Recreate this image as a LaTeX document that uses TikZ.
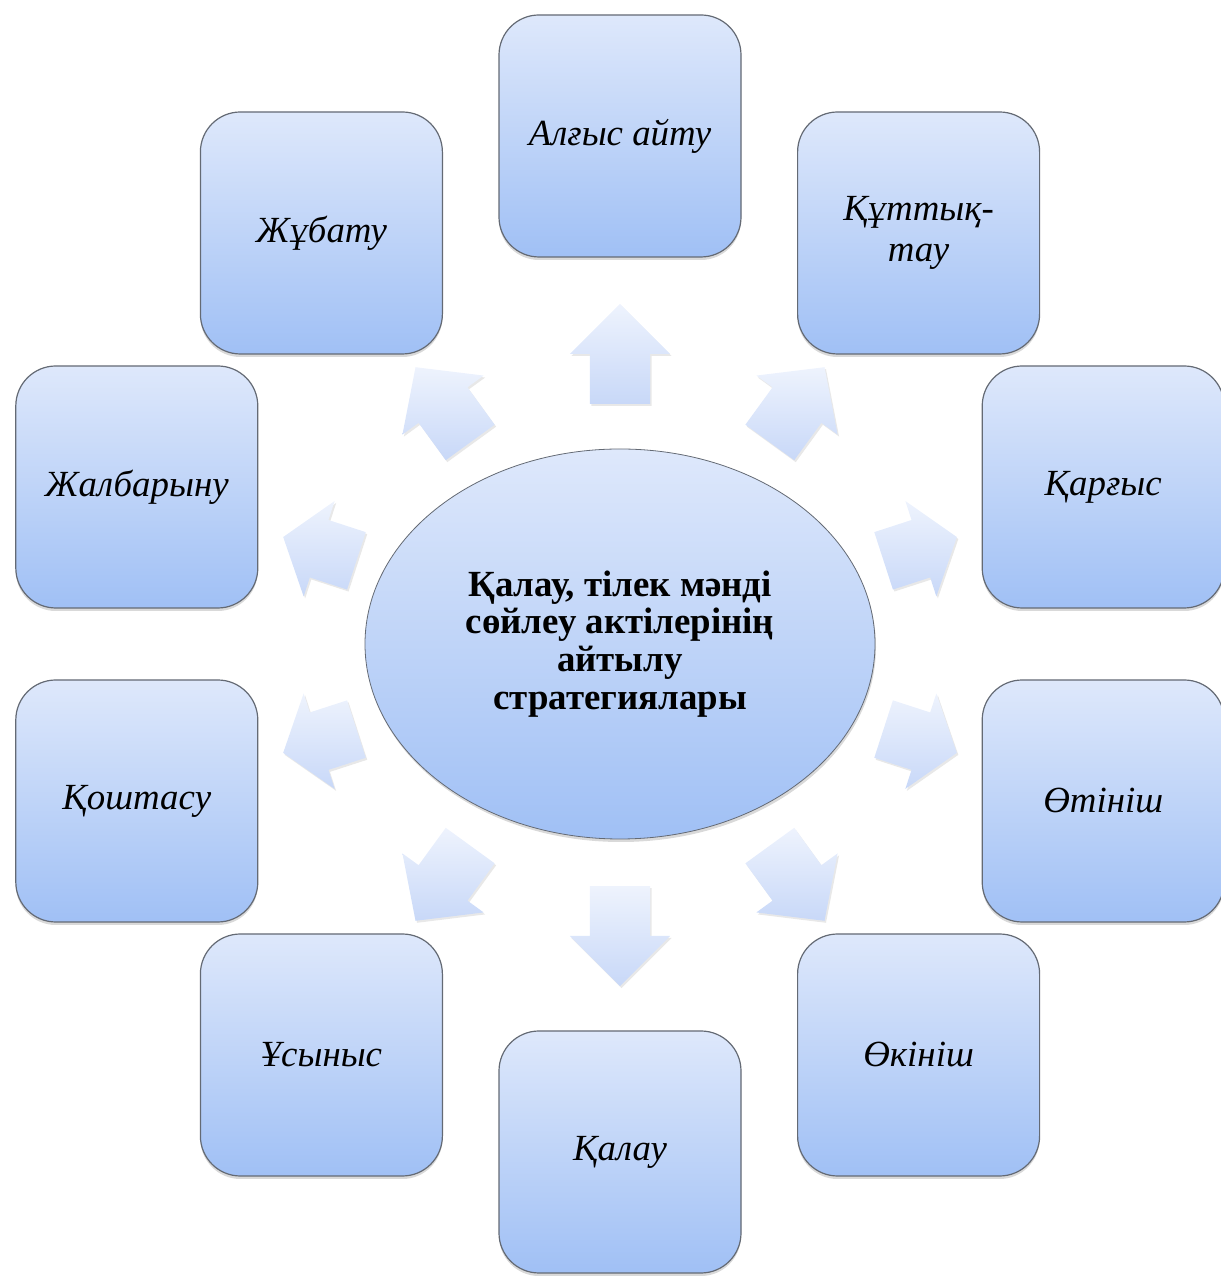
\documentclass[tikz,border=0pt]{standalone}
\usepackage{fontspec}
\setmainfont{Liberation Serif}
\usetikzlibrary{shapes.geometric,shapes.arrows,shadows}
\definecolor{boxtop}{RGB}{222,232,251}
\definecolor{boxbot}{RGB}{160,192,245}
\definecolor{arrtop}{RGB}{238,243,253}
\definecolor{arrbot}{RGB}{200,216,248}
\definecolor{strokecol}{RGB}{100,106,116}

\begin{document}
\begin{tikzpicture}[line join=bevel,
  strategy/.style={draw=strokecol, line width=1.2bp, rounded corners=40bp,
    minimum width=242bp, minimum height=242bp, inner sep=0pt,
    top color=boxtop, bottom color=boxbot, align=center,
    font=\fontsize{37}{41}\selectfont\itshape,
    drop shadow={shadow xshift=0bp, shadow yshift=-3bp, opacity=0.3}},
  hub/.style={ellipse, draw=strokecol, line width=0.8bp,
    minimum width=510bp, minimum height=390bp, inner sep=0pt,
    top color=boxtop, bottom color=boxbot, align=center,
    font=\fontsize{37}{38}\selectfont\bfseries,
    drop shadow={shadow xshift=1bp, shadow yshift=-3bp, opacity=0.3}},
  blockarrow/.style={single arrow, draw=none, anchor=tail,
    inner xsep=0pt, inner ysep=30bp, single arrow head extend=20bp,
    top color=arrtop, bottom color=arrbot,
    drop shadow={shadow xshift=1.5bp, shadow yshift=-2bp, opacity=0.18}}]
  \useasboundingbox (0bp,0bp) rectangle (1221bp,1276bp);
%%
  % Node: hub
  \node [hub] (hub) at (620bp,632bp)
    {Қалау, тілек мәнді\\сөйлеу актілерінің\\айтылу\\стратегиялары};
  % Edge: hub -> alghys
  \node [blockarrow, minimum height=100bp, single arrow tip angle=90, rotate=90] (a1) at (620bp,872bp) {};
  % Edge: hub -> kuttyktau
  \node [blockarrow, minimum height=93bp, single arrow tip angle=94, rotate=54] (a2) at (769.7bp,833.4bp) {};
  % Edge: hub -> kargys
  \node [blockarrow, minimum height=77bp, single arrow tip angle=106, rotate=18] (a3) at (883.4bp,715.1bp) {};
  % Edge: hub -> otinish
  \node [blockarrow, minimum height=77bp, single arrow tip angle=106, rotate=-18] (a4) at (883.4bp,547bp) {};
  % Edge: hub -> okinish
  \node [blockarrow, minimum height=93bp, single arrow tip angle=94, rotate=-54] (a5) at (769.7bp,430.6bp) {};
  % Edge: hub -> kalau
  \node [blockarrow, minimum height=100bp, single arrow tip angle=90, rotate=-90] (a6) at (620bp,390bp) {};
  % Edge: hub -> usynys
  \node [blockarrow, minimum height=93bp, single arrow tip angle=94, rotate=-126] (a7) at (470.3bp,430.6bp) {};
  % Edge: hub -> koshtasu
  \node [blockarrow, minimum height=77bp, single arrow tip angle=106, rotate=-162] (a8) at (356.6bp,547bp) {};
  % Edge: hub -> zhalbarynu
  \node [blockarrow, minimum height=77bp, single arrow tip angle=106, rotate=162] (a9) at (356.6bp,715.1bp) {};
  % Edge: hub -> zhubatu
  \node [blockarrow, minimum height=93bp, single arrow tip angle=94, rotate=126] (a10) at (470.3bp,833.4bp) {};
%%
  % Node: alghys
  \node [strategy] (alghys) at (620bp,1140bp) {Алғыс айту};
  % Node: kuttyktau
  \node [strategy] (kuttyktau) at (918.6bp,1043bp) {Құттық-\\тау};
  % Node: kargys
  \node [strategy] (kargys) at (1103.2bp,789bp) {Қарғыс};
  % Node: otinish
  \node [strategy] (otinish) at (1103.2bp,475bp) {Өтініш};
  % Node: okinish
  \node [strategy] (okinish) at (918.6bp,221bp) {Өкініш};
  % Node: kalau
  \node [strategy] (kalau) at (620bp,124bp) {Қалау};
  % Node: usynys
  \node [strategy] (usynys) at (321.4bp,221bp) {Ұсыныс};
  % Node: koshtasu
  \node [strategy] (koshtasu) at (136.8bp,475bp) {Қоштасу};
  % Node: zhalbarynu
  \node [strategy] (zhalbarynu) at (136.8bp,789bp) {Жалбарыну};
  % Node: zhubatu
  \node [strategy] (zhubatu) at (321.4bp,1043bp) {Жұбату};
%
\end{tikzpicture}
\end{document}
